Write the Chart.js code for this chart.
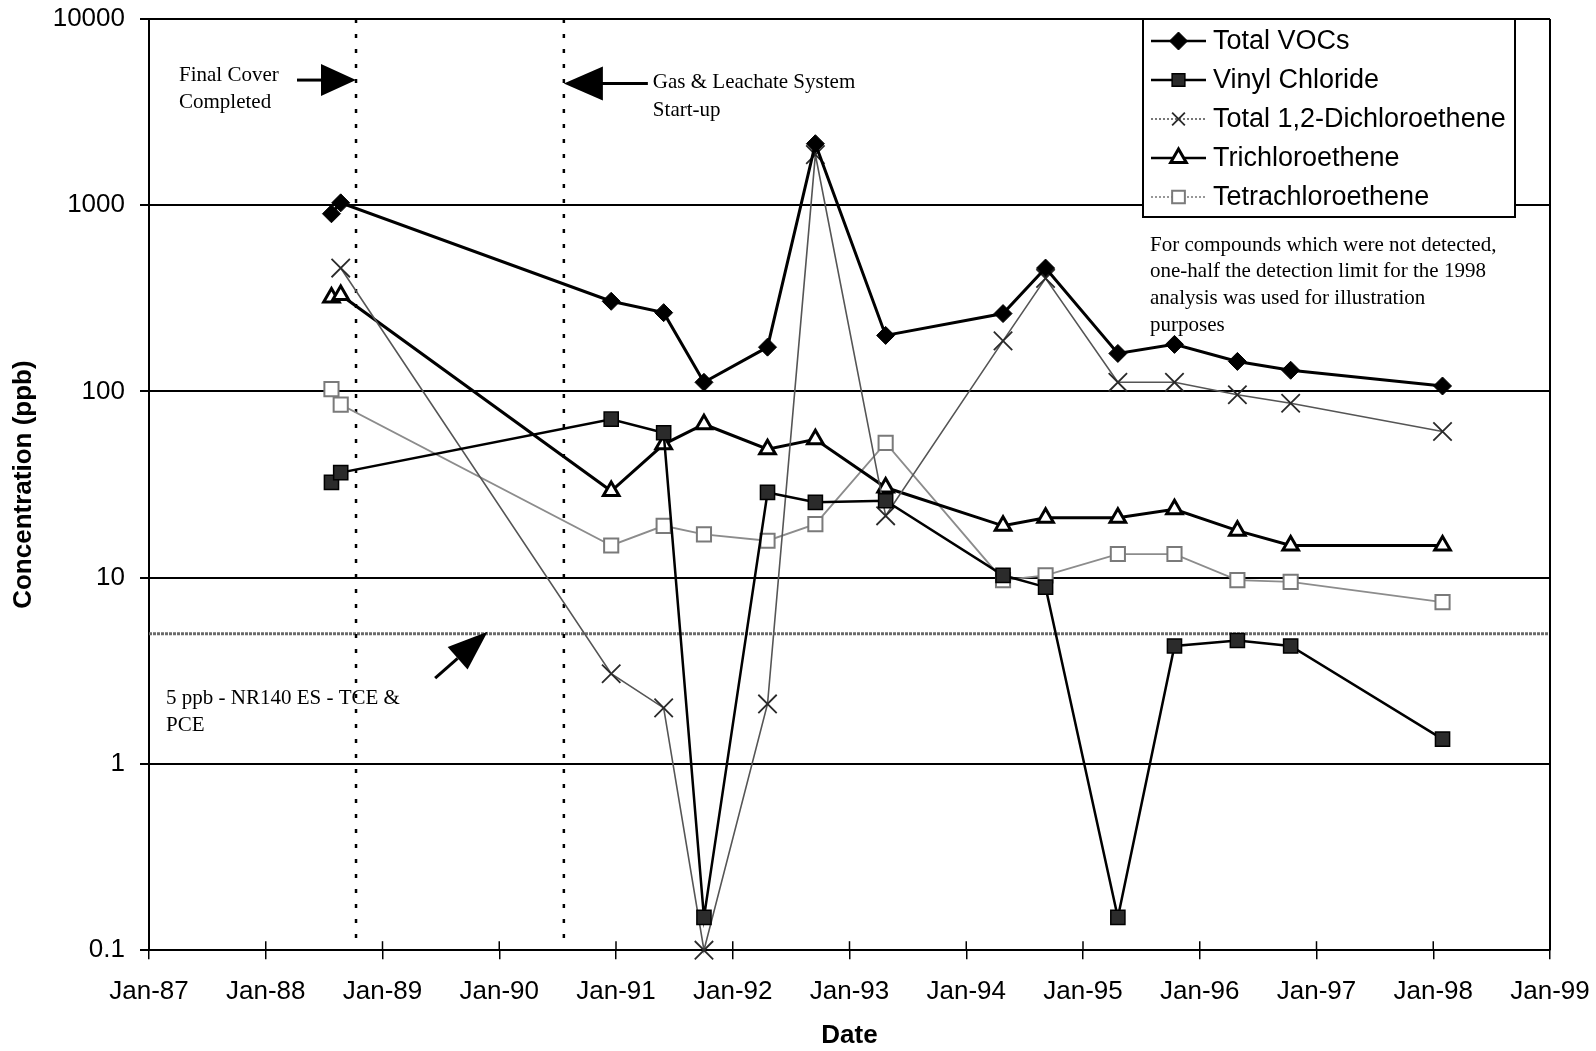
<!DOCTYPE html>
<html>
<head>
<meta charset="utf-8">
<script src="https://cdn.jsdelivr.net/npm/chart.js@4/dist/chart.umd.min.js"></script>
<style>
  html, body { margin: 0; padding: 0; background: #ffffff; }
  #wrap { width: 1596px; height: 1051px; position: relative; }
  canvas { display: block; }
</style>
</head>
<body>
<div id="wrap"><canvas id="chart" width="1596" height="1051"></canvas></div>
<script>
// ---------------- DATA ----------------
const sampleDates = ['1988-07-25', '1988-08-23', '1990-12-17', '1991-05-30', '1991-10-03',
  '1992-04-19', '1992-09-16', '1993-04-24', '1994-04-26', '1994-09-06',
  '1995-04-20', '1995-10-14', '1996-04-28', '1996-10-12', '1998-01-30'];

const totalVOCs        = [900, 1030, 305, 265, 112, 173, 2140, 200, 262, 460, 160, 179, 145, 130, 107];
const vinylChloride    = [32.5, 36.7, 71, 60, 0.15, 28.7, 25.4, 25.9, 10.3, 8.9, 0.15, 4.3, 4.6, 4.3, 1.36];
const dichloroethene   = [null, 460, 3.05, 2.0, 0.1, 2.1, 1870, 21.5, 187, 405, 112, 112, 96, 86.5, 61];
const trichloroethene  = [320, 330, 29.2, 52, 66.7, 49, 55.4, 30.5, 19, 21, 21, 23.3, 17.9, 14.9, 14.9];
const tetrachloroethene= [103, 85, 14.9, 19, 17.1, 15.8, 19.4, 53, 9.7, 10.3, 13.4, 13.4, 9.7, 9.5, 7.4];

const seriesNames = ['Total VOCs', 'Vinyl Chloride', 'Total 1,2-Dichloroethene', 'Trichloroethene', 'Tetrachloroethene'];

const xTickLabels = ['Jan-87', 'Jan-88', 'Jan-89', 'Jan-90', 'Jan-91', 'Jan-92', 'Jan-93',
  'Jan-94', 'Jan-95', 'Jan-96', 'Jan-97', 'Jan-98', 'Jan-99'];
const yTickValues = [0.1, 1, 10, 100, 1000, 10000];

const finalCoverDate = '1988-10-10';
const gasStartDate   = '1990-07-22';
const standardPpb    = 5;

const noteLines = ['For compounds which were not detected,', 'one-half the detection limit for the 1998',
  'analysis was used for illustration', 'purposes'];
const standardLabel = ['5 ppb - NR140 ES - TCE &', 'PCE'];
const finalCoverLabel = ['Final Cover', 'Completed'];
const gasLabel = ['Gas & Leachate System', 'Start-up'];

// ---------------- HELPERS ----------------
function toYear(s) {
  const d = new Date(s + 'T00:00:00Z');
  const yr = d.getUTCFullYear();
  const start = Date.UTC(yr, 0, 1), end = Date.UTC(yr + 1, 0, 1);
  return yr + (d.getTime() - start) / (end - start);
}
const xYears = sampleDates.map(toYear);
function pts(arr) { return arr.map((v, i) => ({ x: xYears[i], y: v })); }

const SANS = "Arial, 'Liberation Sans', Helvetica, sans-serif";
const SERIF = "'Times New Roman', 'Liberation Serif', Times, serif";

const styles = [
  { line: '#000000', lw: 3,   ps: 'rectRot',  r: 9,  bg: '#000000', bc: '#000000', bw: 1 },
  { line: '#000000', lw: 2.5, ps: 'rect',     r: 10, bg: '#2b2b2b', bc: '#000000', bw: 1.5 },
  { line: '#555555', lw: 1.6, ps: 'crossRot', r: 13, bg: '#ffffff', bc: '#2a2a2a', bw: 1.8 },
  { line: '#000000', lw: 3,   ps: 'triangle', r: 9,  bg: '#ffffff', bc: '#000000', bw: 3 },
  { line: '#8c8c8c', lw: 1.8, ps: 'rect',     r: 10, bg: '#ffffff', bc: '#7a7a7a', bw: 2 }
];
const seriesValues = [totalVOCs, vinylChloride, dichloroethene, trichloroethene, tetrachloroethene];

const datasets = seriesValues.map((vals, i) => ({
  label: seriesNames[i],
  data: pts(vals),
  borderColor: styles[i].line,
  borderWidth: styles[i].lw,
  pointStyle: styles[i].ps,
  pointRadius: styles[i].r,
  pointBackgroundColor: styles[i].bg,
  pointBorderColor: styles[i].bc,
  pointBorderWidth: styles[i].bw,
  tension: 0,
  spanGaps: false,
  clip: false,
  fill: false
}));

function drawMarker(ctx, st, x, y) {
  ctx.save();
  ctx.fillStyle = st.bg; ctx.strokeStyle = st.bc; ctx.lineWidth = st.bw; ctx.setLineDash([]);
  const r = st.r;
  ctx.beginPath();
  if (st.ps === 'rectRot') {
    ctx.moveTo(x, y - r); ctx.lineTo(x + r, y); ctx.lineTo(x, y + r); ctx.lineTo(x - r, y); ctx.closePath();
    ctx.fill(); ctx.stroke();
  } else if (st.ps === 'rect') {
    const s = r * Math.SQRT1_2;
    ctx.rect(x - s, y - s, 2 * s, 2 * s); ctx.fill(); ctx.stroke();
  } else if (st.ps === 'crossRot') {
    const s = r * Math.SQRT1_2;
    ctx.moveTo(x - s, y - s); ctx.lineTo(x + s, y + s);
    ctx.moveTo(x + s, y - s); ctx.lineTo(x - s, y + s); ctx.stroke();
  } else if (st.ps === 'triangle') {
    for (let k = 0; k < 3; k++) {
      const a = k * 2 * Math.PI / 3;
      const px = x + Math.sin(a) * r, py = y - Math.cos(a) * r;
      if (k === 0) ctx.moveTo(px, py); else ctx.lineTo(px, py);
    }
    ctx.closePath(); ctx.fill(); ctx.stroke();
  }
  ctx.restore();
}

function seg(ctx, x1, y1, x2, y2) { ctx.beginPath(); ctx.moveTo(x1, y1); ctx.lineTo(x2, y2); ctx.stroke(); }
function tri(ctx, p) { ctx.beginPath(); ctx.moveTo(p[0][0], p[0][1]); ctx.lineTo(p[1][0], p[1][1]); ctx.lineTo(p[2][0], p[2][1]); ctx.closePath(); ctx.fill(); }

const annotPlugin = {
  id: 'annot',
  beforeDatasetsDraw(chart) {
    const { ctx, chartArea: a, scales: { x, y } } = chart;
    ctx.save();
    const ys = y.getPixelForValue(standardPpb);
    ctx.strokeStyle = '#6b6b6b'; ctx.lineWidth = 3; ctx.setLineDash([3, 1]);
    seg(ctx, a.left, ys, a.right, ys);
    ctx.strokeStyle = '#000000'; ctx.lineWidth = 2.5; ctx.setLineDash([4, 11]);
    [finalCoverDate, gasStartDate].forEach(d => {
      const px = x.getPixelForValue(toYear(d));
      seg(ctx, px, a.top, px, a.bottom);
    });
    ctx.restore();
  },
  afterDraw(chart) {
    const { ctx, chartArea: a, scales: { x, y } } = chart;
    ctx.save();
    ctx.setLineDash([]);
    ctx.strokeStyle = '#000'; ctx.lineWidth = 2;
    seg(ctx, a.left, a.top, a.right, a.top);
    seg(ctx, a.right, a.top, a.right, a.bottom);
    ctx.lineWidth = 1.5;
    x.ticks.forEach(t => { const px = x.getPixelForValue(t.value); seg(ctx, px, a.bottom - 9, px, a.bottom); });

    // Final cover arrow (pointing right)
    ctx.fillStyle = '#000'; ctx.strokeStyle = '#000'; ctx.lineWidth = 3;
    const fx = x.getPixelForValue(toYear(finalCoverDate)), fy = y.getPixelForValue(4700);
    seg(ctx, fx - 59, fy, fx - 30, fy);
    tri(ctx, [[fx, fy], [fx - 35, fy - 16], [fx - 35, fy + 16]]);
    // Gas arrow (pointing left)
    const gx = x.getPixelForValue(toYear(gasStartDate)), gy = y.getPixelForValue(4500);
    seg(ctx, gx + 33, gy, gx + 84, gy);
    tri(ctx, [[gx, gy], [gx + 39, gy - 17], [gx + 39, gy + 17]]);
    // 5 ppb arrow
    const sx = x.getPixelForValue(1989.9), sy = y.getPixelForValue(standardPpb) - 2;
    const dx = 0.749, dy = -0.663;
    const bx = sx - 40 * dx, by = sy - 40 * dy;
    seg(ctx, sx - 70 * dx, sy - 70 * dy, bx, by);
    tri(ctx, [[sx, sy], [bx - 15 * dy, by + 15 * dx], [bx + 15 * dy, by - 15 * dx]]);

    // annotation texts
    ctx.fillStyle = '#000';
    ctx.font = '21px ' + SERIF;
    ctx.textAlign = 'left'; ctx.textBaseline = 'middle';
    ctx.fillText(finalCoverLabel[0], fx - 177, fy - 5);
    ctx.fillText(finalCoverLabel[1], fx - 177, fy + 22);
    ctx.fillText(gasLabel[0], gx + 89, fy + 2);
    ctx.fillText(gasLabel[1], gx + 89, fy + 30);
    ctx.fillText(standardLabel[0], a.left + 17, sy + 67);
    ctx.fillText(standardLabel[1], a.left + 17, sy + 94);
    noteLines.forEach((t, i) => ctx.fillText(t, a.right - 400, a.top + 226 + i * 26.7));

    // legend box
    const lx = a.right - 407, lt = a.top, lw = 372, lh = 198;
    ctx.fillStyle = '#fff'; ctx.fillRect(lx, lt, lw, lh);
    ctx.strokeStyle = '#000'; ctx.lineWidth = 2; ctx.strokeRect(lx, lt, lw, lh);
    ctx.font = '27px ' + SANS;
    seriesNames.forEach((name, i) => {
      const ry = lt + 22 + i * 39;
      const st = styles[i];
      ctx.strokeStyle = st.line; ctx.lineWidth = Math.min(st.lw, 2.5);
      ctx.setLineDash(i === 2 || i === 4 ? [2, 2] : []);
      seg(ctx, lx + 8, ry, lx + 63, ry);
      ctx.setLineDash([]);
      drawMarker(ctx, Object.assign({}, st, { r: Math.min(st.r, 9) }), lx + 35.5, ry);
      ctx.fillStyle = '#000';
      ctx.fillText(name, lx + 70, ry + 1);
    });
    ctx.restore();
  }
};

new Chart(document.getElementById('chart'), {
  type: 'line',
  data: { datasets },
  plugins: [annotPlugin],
  options: {
    responsive: false,
    animation: false,
    devicePixelRatio: 1,
    events: [],
    layout: { autoPadding: false, padding: { left: 0, right: 46, top: 19, bottom: 0 } },
    plugins: { legend: { display: false }, tooltip: { enabled: false }, title: { display: false } },
    scales: {
      x: {
        type: 'linear',
        min: 1987, max: 1999,
        afterFit: s => { s.height = 100.8; s.paddingLeft = 0; s.paddingRight = 0; },
        afterBuildTicks: s => { s.ticks = xTickLabels.map((_, i) => ({ value: 1987 + i })); },
        ticks: {
          autoSkip: false, maxRotation: 0, padding: 17, color: '#000',
          font: { family: SANS, size: 26 },
          callback: (v) => xTickLabels[Math.round(v - 1987)]
        },
        grid: { drawOnChartArea: false, drawTicks: true, tickLength: 9, color: '#000', lineWidth: 1.5 },
        border: { display: true, color: '#000', width: 2 },
        title: { display: true, text: 'Date', color: '#000', font: { family: SANS, size: 26, weight: 'bold' }, padding: { top: 0, bottom: 0 } }
      },
      y: {
        type: 'logarithmic',
        min: 0.1, max: 10000,
        afterFit: s => { s.width = 149; s.paddingTop = 0; s.paddingBottom = 0; },
        afterBuildTicks: s => { s.ticks = yTickValues.map(v => ({ value: v })); },
        ticks: {
          padding: 15, color: '#000',
          font: { family: SANS, size: 26 },
          callback: (v) => String(v)
        },
        grid: { drawOnChartArea: true, drawTicks: true, tickLength: 9, color: '#000', lineWidth: 2 },
        border: { display: true, color: '#000', width: 2 },
        title: { display: true, text: 'Concentration (ppb)', color: '#000', font: { family: SANS, size: 26, weight: 'bold' }, padding: { top: 8, bottom: 0 } }
      }
    }
  }
});
</script>
</body>
</html>
